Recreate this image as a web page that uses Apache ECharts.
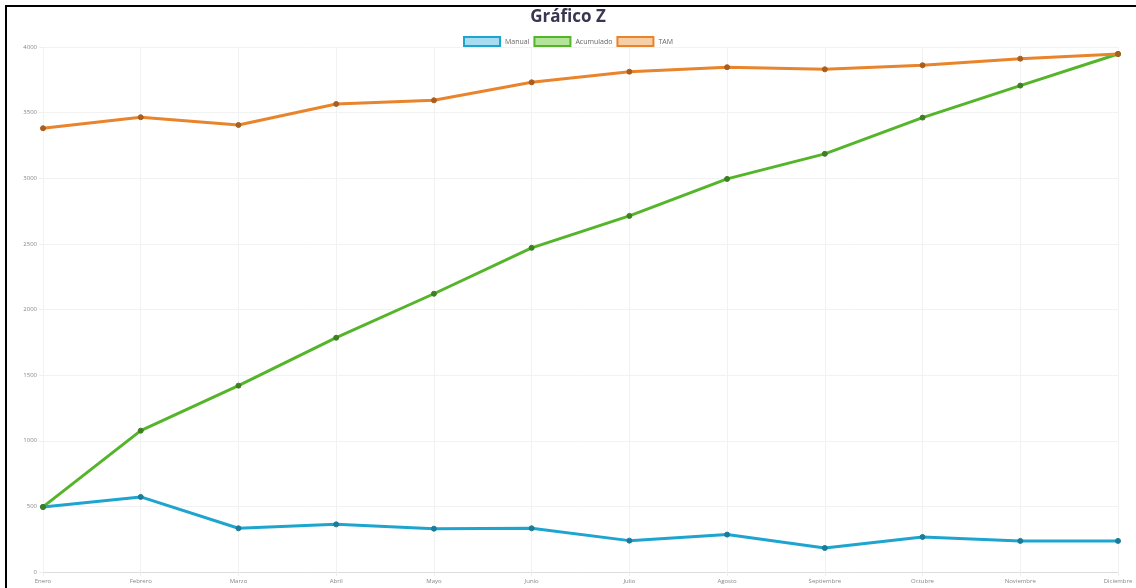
<!DOCTYPE html>
<html>
<head>
<meta charset="utf-8">
<script src="https://cdn.jsdelivr.net/npm/echarts@6/dist/echarts.min.js"></script>
<style>
html,body{margin:0;padding:0;background:#fff;}
#frame{position:absolute;left:5px;top:5px;width:1131px;height:583px;border-left:2px solid #000;border-top:2px solid #000;box-sizing:border-box;}
#chart{position:absolute;left:0;top:0;width:1136px;height:588px;}
</style>
</head>
<body>
<div id="frame"></div>
<div id="chart"></div>
<script>
var categories = ['Enero','Febrero','Marzo','Abril','Mayo','Junio','Julio','Agosto','Septiembre','Octubre','Noviembre','Diciembre'];
var manual = [496, 572, 333, 363, 330, 333, 239, 285, 183, 267, 237, 237];
var acumulado = [496, 1077, 1420, 1785, 2120, 2470, 2713, 2995, 3186, 3462, 3706, 3947];
var tam = [3381, 3465, 3406, 3566, 3594, 3731, 3812, 3846, 3830, 3861, 3911, 3947];
var yTicks = [0, 500, 1000, 1500, 2000, 2500, 3000, 3500, 4000];

var colors = {
  Manual: {line:'#1ea5cf', fill:'#a8dcf0', point:'#1b7c99'},
  Acumulado: {line:'#55b52a', fill:'#b4e39a', point:'#3d7f22'},
  TAM: {line:'#e8842c', fill:'#f7cfa6', point:'#a95d1e'}
};

function mk(name, data){
  var c = colors[name];
  return {
    name: name, type:'line', data:data,
    symbol:'circle', symbolSize:5,
    lineStyle:{color:c.line, width:3},
    itemStyle:{color:c.point, borderColor:c.point},
    emphasis:{disabled:true}
  };
}

var chart = echarts.init(document.getElementById('chart'));
chart.setOption({
  animation:false,
  title:{text:'Gráfico Z', left:'center', top:4,
    textStyle:{fontFamily:'Open Sans', fontSize:17, fontWeight:'bold', color:'#3a3550'}},
  legend:{
    top:31, left:'center', itemWidth:36, itemHeight:9, itemGap:4,
    textStyle:{fontSize:7, color:'#666', fontFamily:'Open Sans'},
    data: Object.keys(colors).map(function(k){
      return {name:k, icon:'rect', itemStyle:{color:colors[k].fill, borderColor:colors[k].line, borderWidth:2}};
    })
  },
  grid:{left:43, right:18, top:47, bottom:16, containLabel:false},
  xAxis:{
    type:'category', data:categories, boundaryGap:false,
    axisLine:{lineStyle:{color:'#ddd'}},
    axisTick:{show:true, length:4, lineStyle:{color:'#eee'}},
    axisLabel:{fontSize:6, color:'#888', margin:6, fontFamily:'Open Sans', interval:0},
    splitLine:{show:true, lineStyle:{color:'#f2f2f2'}}
  },
  yAxis:{
    type:'value', min:0, max:4000, interval:500,
    axisLine:{show:false},
    axisTick:{show:true, length:4, lineStyle:{color:'#eee'}},
    axisLabel:{fontSize:6, color:'#888', margin:6, fontFamily:'Open Sans',
      formatter:function(v){ return yTicks.indexOf(v) >= 0 ? String(v) : ''; }},
    splitLine:{show:true, lineStyle:{color:'#f2f2f2'}}
  },
  series:[mk('Manual', manual), mk('Acumulado', acumulado), mk('TAM', tam)]
});
</script>
</body>
</html>
